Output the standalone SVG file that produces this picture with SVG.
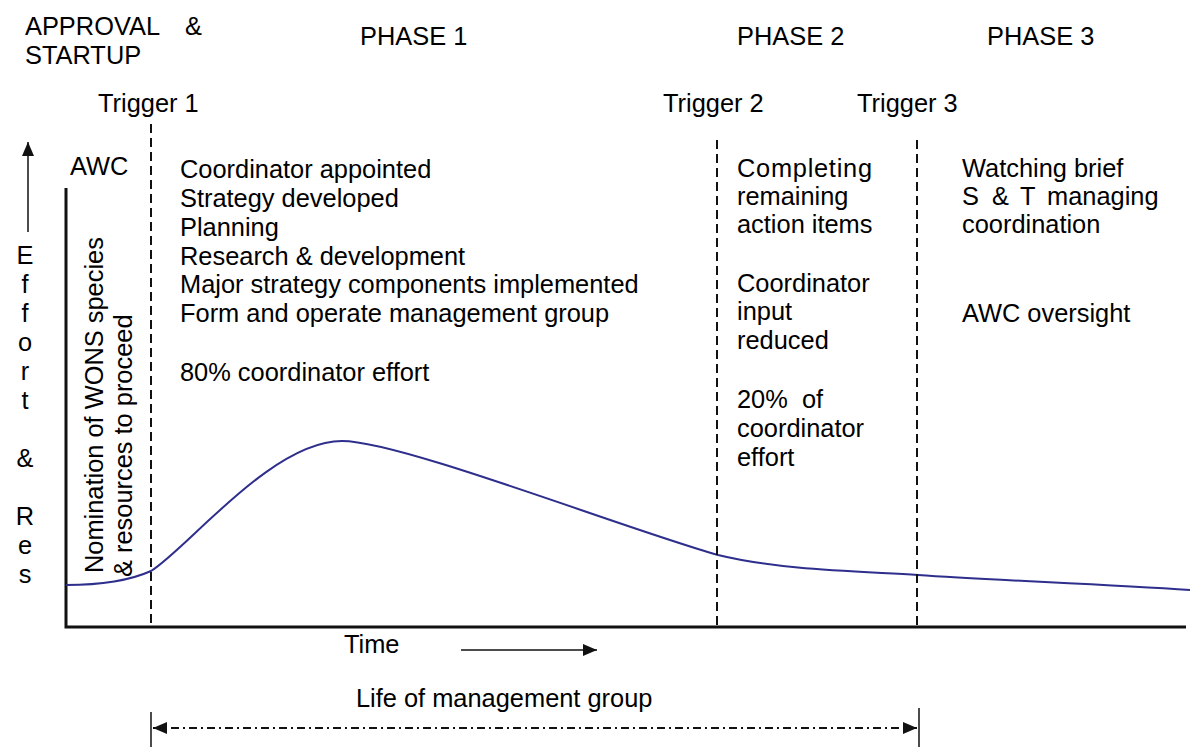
<svg xmlns="http://www.w3.org/2000/svg" width="1192" height="747" viewBox="0 0 1192 747">
  <style>
    text { font-family: "Liberation Sans", Arial, sans-serif; font-size: 25.4px; fill: #000; }
    .axis { stroke: #111; stroke-width: 3; fill: none; }
    .trigger { stroke: #111; stroke-width: 2; stroke-dasharray: 9 5; fill: none; }
    .thin { stroke: #111; stroke-width: 1.5; fill: none; }
    .span { stroke: #111; stroke-width: 2; stroke-dasharray: 8 4 2 4; fill: none; }
    .curve { stroke: #2e2e8c; stroke-width: 2; fill: none; }
  </style>
  <defs>
    <marker id="head" viewBox="0 0 14 12" refX="14" refY="6" markerWidth="14" markerHeight="12" markerUnits="userSpaceOnUse" orient="auto-start-reverse">
      <path d="M0,0 L14,6 L0,12 z" fill="#111"/>
    </marker>
  </defs>

  <rect width="1192" height="747" fill="#fff"/>

  <!-- phase headings -->
  <g id="headings">
    <text x="25" y="35">APPROVAL<tspan x="185">&amp;</tspan></text>
    <text x="25" y="64">STARTUP</text>
    <text x="360" y="45">PHASE 1</text>
    <text x="737" y="45">PHASE 2</text>
    <text x="987" y="45">PHASE 3</text>
  </g>

  <!-- trigger labels -->
  <g id="trigger-labels">
    <text x="98" y="112">Trigger 1</text>
    <text x="663" y="112">Trigger 2</text>
    <text x="857" y="112">Trigger 3</text>
  </g>

  <!-- axes -->
  <g id="axes">
    <polyline class="axis" points="66,188 66,627 1186,627"/>
  </g>

  <!-- y-axis caption -->
  <g id="y-label" text-anchor="middle">
    <text x="25" y="264">E</text>
    <text x="25" y="293">f</text>
    <text x="25" y="322">f</text>
    <text x="25" y="351">o</text>
    <text x="25" y="380">r</text>
    <text x="25" y="409">t</text>
    <text x="25" y="467">&amp;</text>
    <text x="25" y="525">R</text>
    <text x="25" y="554">e</text>
    <text x="25" y="583">s</text>
  </g>

  <!-- approval and startup column -->
  <g id="startup">
    <text x="70" y="175">AWC</text>
    <text transform="translate(103,573) rotate(-90)">Nomination of WONS species</text>
    <text transform="translate(132,577) rotate(-90)">&amp; resources to proceed</text>
  </g>

  <!-- phase 1 notes -->
  <g id="phase1">
    <text x="180" y="178">Coordinator appointed</text>
    <text x="180" y="207">Strategy developed</text>
    <text x="180" y="236">Planning</text>
    <text x="180" y="265">Research &amp; development</text>
    <text x="180" y="293">Major strategy components implemented</text>
    <text x="180" y="322">Form and operate management group</text>
    <text x="180" y="381">80% coordinator effort</text>
  </g>

  <!-- phase 2 notes -->
  <g id="phase2">
    <text x="737" y="177" textLength="135" lengthAdjust="spacing">Completing</text>
    <text x="737" y="205">remaining</text>
    <text x="737" y="233">action items</text>
    <text x="737" y="292">Coordinator</text>
    <text x="737" y="320">input</text>
    <text x="737" y="349">reduced</text>
    <text x="737" y="408" xml:space="preserve">20%  of</text>
    <text x="737" y="437">coordinator</text>
    <text x="737" y="466">effort</text>
  </g>

  <!-- phase 3 notes -->
  <g id="phase3">
    <text x="962" y="177">Watching brief</text>
    <text x="962" y="205">S<tspan x="992">&amp;</tspan><tspan x="1020">T</tspan><tspan x="1047">managing</tspan></text>
    <text x="962" y="233">coordination</text>
    <text x="962" y="322">AWC oversight</text>
  </g>

  <!-- effort curve -->
  <g id="effort-curve">
    <path class="curve" d="M66,585 C100,585 131,580 151,571 C188,548 272,441 342,441 C400,441 620,527 718,555 C780,570 850,571 918,575 C990,580 1100,584 1190,590"/>
  </g>

  <!-- time axis captions -->
  <g id="time-label">
    <text x="344" y="653">Time</text>
    <text x="356" y="707">Life of management group</text>
  </g>

  <!-- connectors: trigger markers and arrows -->
  <g id="connectors">
    <line class="trigger" x1="151" y1="124" x2="151" y2="627"/>
    <line class="trigger" x1="717" y1="140" x2="717" y2="627"/>
    <line class="trigger" x1="917" y1="140" x2="917" y2="627"/>
    <line class="thin" x1="28" y1="232" x2="28" y2="142" marker-end="url(#head)"/>
    <line class="thin" x1="461" y1="650" x2="597" y2="650" marker-end="url(#head)"/>
    <line class="thin" x1="151" y1="712" x2="151" y2="747"/>
    <line class="thin" x1="919" y1="708" x2="919" y2="747"/>
    <line class="span" x1="153" y1="728" x2="917" y2="728" marker-start="url(#head)" marker-end="url(#head)"/>
  </g>
</svg>
